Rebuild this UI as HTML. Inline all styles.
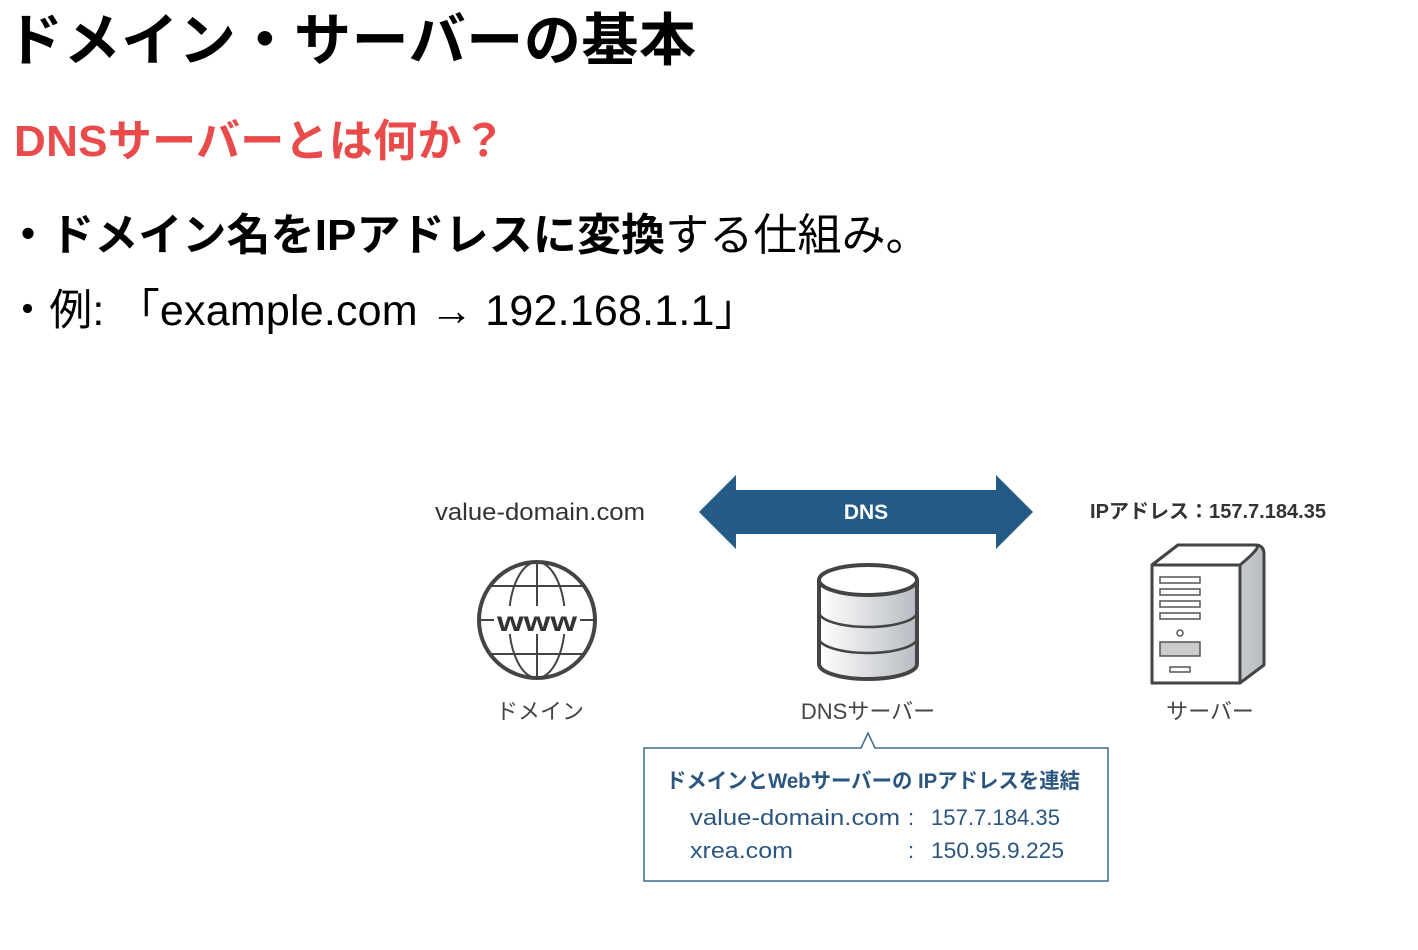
<!DOCTYPE html>
<html><head><meta charset="utf-8"><style>
body{margin:0;width:1418px;height:950px;background:#fff;position:relative;overflow:hidden;font-family:"Liberation Sans","Noto Sans CJK JP",sans-serif;color:#000}
.t{position:absolute;white-space:nowrap;line-height:1}
</style></head><body>
<div class="t" style="left:6px;top:13px;font-size:57px;font-weight:bold;letter-spacing:0.6px">ドメイン・サーバーの基本</div>
<div class="t" style="left:14px;top:120px;font-size:44px;font-weight:bold;color:#e94b4b;letter-spacing:0.3px">DNSサーバーとは何か？</div>
<div class="t" style="left:6px;top:214px;font-size:44px;letter-spacing:0.1px"><b>・ドメイン名をIPアドレスに変換</b>する仕組み。</div>
<div class="t" style="left:6px;top:290px;font-size:43px;letter-spacing:0.2px">・例: 「example.com → 192.168.1.1」</div>
<svg width="1418" height="950" style="position:absolute;left:0;top:0" font-family="Liberation Sans, Noto Sans CJK JP, sans-serif">
<defs>
<linearGradient id="g" x1="0" x2="1"><stop offset="0" stop-color="#fff"/><stop offset="1" stop-color="#b8bcc2"/></linearGradient>
</defs>
<text x="540" y="520" font-size="24" fill="#333" text-anchor="middle" textLength="210" lengthAdjust="spacingAndGlyphs">value-domain.com</text>
<polygon points="699,512 736,475 736,490 996,490 996,475 1033,512 996,549 996,534 736,534 736,549" fill="#235a86"/>
<text x="866" y="519" font-size="21" font-weight="bold" fill="#fff" text-anchor="middle">DNS</text>
<text x="1208" y="518" font-size="20" fill="#333" text-anchor="middle" font-weight="bold" textLength="236" lengthAdjust="spacingAndGlyphs">IPアドレス：157.7.184.35</text>
<g stroke="#444" fill="none">
<circle cx="537" cy="620" r="58" stroke-width="4"/>
<ellipse cx="537" cy="620" rx="28" ry="58" stroke-width="2"/>
<line x1="537" y1="562" x2="537" y2="678" stroke-width="2"/>
<line x1="490" y1="586" x2="584" y2="586" stroke-width="2"/>
<line x1="490" y1="654" x2="584" y2="654" stroke-width="2"/>
<line x1="479" y1="620" x2="595" y2="620" stroke-width="2"/>
</g>
<rect x="494" y="606" width="86" height="28" fill="#fff"/>
<text x="537" y="631" font-size="28" font-weight="bold" fill="#333" text-anchor="middle" textLength="80" lengthAdjust="spacingAndGlyphs">www</text>
<text x="540" y="719" font-size="22" fill="#444" text-anchor="middle">ドメイン</text>
<g stroke="#444" stroke-width="4">
<path d="M819,580 L819,664 A49,15 0 0 0 917,664 L917,580" fill="url(#g)"/>
<ellipse cx="868" cy="580" rx="49" ry="15" fill="#fff"/>
<path d="M819,612 A49,15 0 0 0 917,612" fill="none" stroke-width="2.5"/>
<path d="M819,638 A49,15 0 0 0 917,638" fill="none" stroke-width="2.5"/>
</g>
<text x="868" y="719" font-size="22" fill="#444" text-anchor="middle">DNSサーバー</text>
<g stroke="#444" stroke-width="3" stroke-linejoin="round">
<path d="M1152,565 L1178,545 L1255,545 Q1264,545 1264,554 L1264,665 L1240,683 L1152,683 Z" fill="url(#g)"/>
<path d="M1152,565 L1178,545 L1255,545 Q1264,545 1240,565 Z" fill="#fff"/>
<rect x="1152" y="565" width="88" height="118" fill="#fff"/>
</g>
<g stroke="#555" stroke-width="1.5" fill="#fff">
<rect x="1160" y="577" width="40" height="6"/><rect x="1160" y="589" width="40" height="6"/>
<rect x="1160" y="601" width="40" height="6"/><rect x="1160" y="613" width="40" height="6"/>
<circle cx="1180" cy="633" r="3"/>
<rect x="1160" y="642" width="40" height="14" fill="#ccc"/>
<rect x="1170" y="667" width="20" height="5"/>
</g>
<text x="1210" y="719" font-size="22" fill="#444" text-anchor="middle">サーバー</text>
<path d="M644,748 L861,748 L868,733 L875,748 L1108,748 L1108,881 L644,881 Z" fill="#fff" stroke="#3d6a93" stroke-width="1.5"/>
<text x="666" y="788" font-size="21" font-weight="bold" fill="#2b5680" textLength="414" lengthAdjust="spacingAndGlyphs">ドメインとWebサーバーの IPアドレスを連結</text>
<g font-size="22" fill="#2b5680">
<text x="690" y="825" textLength="210" lengthAdjust="spacingAndGlyphs">value-domain.com</text><text x="908" y="825">:</text><text x="931" y="825" textLength="129" lengthAdjust="spacingAndGlyphs">157.7.184.35</text>
<text x="690" y="858" textLength="103" lengthAdjust="spacingAndGlyphs">xrea.com</text><text x="908" y="858">:</text><text x="931" y="858" textLength="133" lengthAdjust="spacingAndGlyphs">150.95.9.225</text>
</g>
</svg>
</body></html>
